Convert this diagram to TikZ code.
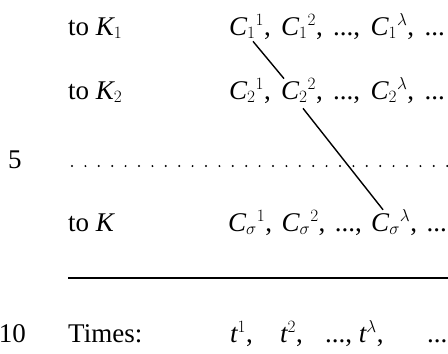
\documentclass[tikz,border=0pt]{standalone}
\usepackage{fontspec}
\setmainfont{Liberation Serif}
\usetikzlibrary{positioning}
\tikzset{
  lbl/.style={anchor=base west,inner sep=0pt,font=\fontsize{27}{32}\selectfont},
  link/.style={line width=1.4pt}
}
\newcommand{\Cst}[2]{$\mathit{C}_{#1}{}^{#2}$}

\begin{document}
\begin{tikzpicture}[x=1pt,y=-1pt]
        \useasboundingbox (0,0) rectangle (448,354);
        % row K1
        \node[lbl] (k1) at (68,35) {to $\mathit{K}_1$};
        \node[lbl] (c11) at (229,35) {\Cst{1}{1},};
        \node[lbl] (c12) at ([xshift=10pt]c11.base east) {\Cst{1}{2},};
        \node[lbl] (d1) at ([xshift=10pt]c12.base east) {...,};
        \node[lbl] (c1l) at ([xshift=10pt]d1.base east) {\Cst{1}{\lambda},};
        \node[lbl] (e1) at ([xshift=10pt]c1l.base east) {...};
        % row K2
        \node[lbl] (k2) at (68,99) {to $\mathit{K}_2$};
        \node[lbl] (c21) at (229,99) {\Cst{2}{1},};
        \node[lbl] (c22) at ([xshift=10pt]c21.base east) {\Cst{2}{2},};
        \node[lbl] (d2) at ([xshift=10pt]c22.base east) {...,};
        \node[lbl] (c2l) at ([xshift=10pt]d2.base east) {\Cst{2}{\lambda},};
        \node[lbl] (e2) at ([xshift=10pt]c2l.base east) {...};
        % dotted row
        \node[lbl] (five) at (8,168) {5};
        \coordinate (dotl) at (72,166);
        \coordinate (dotr) at (448,166);
        \draw[line width=2.2pt,line cap=round,dash pattern=on 0pt off 13.4pt] (dotl) -- (dotr);
        % row K
        \node[lbl] (k) at (68,231) {to $\mathit{K}$};
        \node[lbl] (c41) at (228,231) {\Cst{\sigma}{1},};
        \node[lbl] (c42) at ([xshift=9pt]c41.base east) {\Cst{\sigma}{2},};
        \node[lbl] (d4) at ([xshift=9pt]c42.base east) {...,};
        \node[lbl] (c4l) at ([xshift=9pt]d4.base east) {\Cst{\sigma}{\lambda},};
        \node[lbl] (e4) at ([xshift=9pt]c4l.base east) {...};
        % rule
        \coordinate (rl) at (68,278);
        \coordinate (rr) at (448,278);
        \draw[line width=1.8pt] (rl) -- (rr);
        % times row
        \node[lbl,anchor=base east] (ten) at (26,342) {10};
        \node[lbl] (times) at (68,342) {Times:};
        \node[lbl] (t1) at (230,342) {$\mathit{t}^1$,};
        \node[lbl] (t2) at (280,342) {$\mathit{t}^2$,};
        \node[lbl] (tl) at (325,342) {..., $\mathit{t}^{\lambda}$,};
        \node[lbl] (te) at (427,342) {...};
        % links
        \draw[link] ([xshift=3pt,yshift=-2pt]c11.south) -- ([xshift=3pt]c22.north west);
        \draw[link] ([xshift=1pt,yshift=-5pt]c22.south) -- ([xshift=12pt]c4l.north west);
\end{tikzpicture}
\end{document}
